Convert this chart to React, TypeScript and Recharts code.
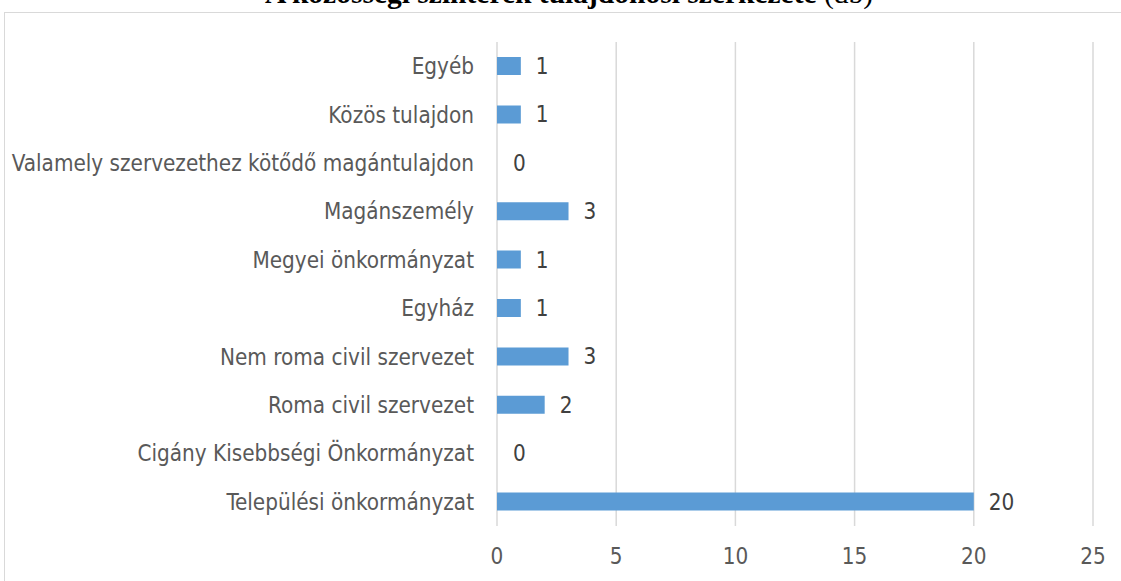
import React from "react";
import {
  BarChart,
  Bar,
  Cell,
  XAxis,
  YAxis,
  CartesianGrid,
  LabelList,
} from "recharts";

const categories = [
  "Egyéb",
  "Közös tulajdon",
  "Valamely szervezethez kötődő magántulajdon",
  "Magánszemély",
  "Megyei önkormányzat",
  "Egyház",
  "Nem roma civil szervezet",
  "Roma civil szervezet",
  "Cigány Kisebbségi Önkormányzat",
  "Települési önkormányzat",
];
const counts = [1, 1, 0, 3, 1, 1, 3, 2, 0, 20];
const xTicks = [0, 5, 10, 15, 20, 25];

const data = categories.map((name, i) => ({ name, value: counts[i] }));

const FONT = "'Liberation Sans Narrow', 'DejaVu Sans Condensed', 'Open Sans', sans-serif";
const TEXT = "#595959";
const FS = 22.3;
const BAR = "#5b9bd5";

export default function App() {
  return (
    <div
      style={{
        position: "absolute",
        left: 0,
        top: 0,
        width: 1121,
        height: 581,
        overflow: "hidden",
        background: "#fff",
      }}
    >
      <div
        style={{
          position: "absolute",
          left: 4,
          top: 12,
          width: 1130,
          height: 580,
          border: "1px solid #d9d9d9",
        }}
      />
      <svg
        width={1121}
        height={20}
        style={{ position: "absolute", left: 0, top: 0 }}
      >
        <text
          x={569}
          y={3}
          textAnchor="middle"
          fontFamily="'Liberation Serif', serif"
          fontSize={29.5}
          fontWeight="bold"
          fill="#000"
        >
          A közösségi színterek tulajdonosi szerkezete{" "}
          <tspan fontWeight="normal">(db)</tspan>
        </text>
      </svg>
      <div style={{ position: "absolute", left: 0, top: 0 }}>
        <BarChart
          width={1121}
          height={581}
          data={data}
          layout="vertical"
          margin={{ top: 42, right: 28, bottom: 15, left: 0 }}
          barSize={18}
        >
          <CartesianGrid
            horizontal={false}
            stroke="#d9d9d9"
            strokeWidth={1.5}
          />
          <XAxis
            type="number"
            domain={[0, 25]}
            ticks={xTicks}
            axisLine={false}
            tickLine={false}
            height={40}
            tickMargin={16}
            tick={{ fill: TEXT, fontSize: FS, fontFamily: FONT }}
          />
          <YAxis
            type="category"
            dataKey="name"
            width={497}
            axisLine={false}
            tickLine={false}
            tickSize={0}
            tickMargin={23}
            interval={0}
            tick={{ fill: TEXT, fontSize: FS, fontFamily: FONT }}
          />
          <Bar
            dataKey="value"
            fill={BAR}
            minPointSize={1}
            isAnimationActive={false}
          >
            {data.map((d, i) => (
              <Cell key={i} fill={d.value === 0 ? "none" : BAR} />
            ))}
            <LabelList
              dataKey="value"
              position="right"
              offset={15}
              fill="#404040"
              fontSize={FS}
              fontFamily={FONT}
            />
          </Bar>
        </BarChart>
      </div>
    </div>
  );
}
